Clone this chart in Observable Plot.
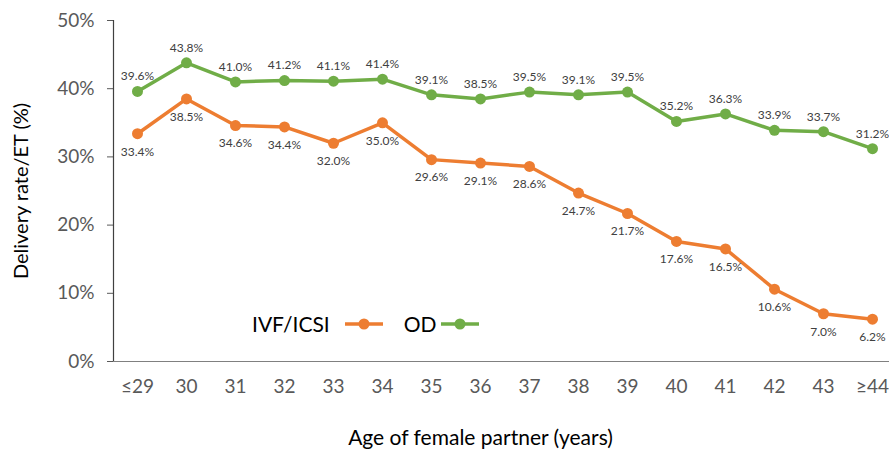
<!DOCTYPE html>
<html>
<head>
<meta charset="utf-8">
<script src="https://cdn.jsdelivr.net/npm/d3@7"></script>
<script src="https://cdn.jsdelivr.net/npm/@observablehq/plot@0.6"></script>
<style>
  html, body { margin: 0; padding: 0; background: #fff; }
  #wrap { position: relative; width: 889px; height: 453px; font-family: Lato, "Open Sans", sans-serif; }
  #legend { position: absolute; left: 252px; top: 311px; display: flex; align-items: center; font-size: 21px; color: #000; }
  #legend svg { display: block; }
</style>
</head>
<body>
<div id="wrap"></div>
<script>
const ages = ["≤29","30","31","32","33","34","35","36","37","38","39","40","41","42","43","≥44"];
const ivfIcsi = [33.4,38.5,34.6,34.4,32.0,35.0,29.6,29.1,28.6,24.7,21.7,17.6,16.5,10.6,7.0,6.2];
const od = [39.6,43.8,41.0,41.2,41.1,41.4,39.1,38.5,39.5,39.1,39.5,35.2,36.3,33.9,33.7,31.2];
const yTicks = [0,10,20,30,40,50];
const seriesNames = ["IVF/ICSI","OD"];
const colors = ["#ED7D31","#70AD47"];

const ivfRows = ages.map((a,i)=>({age:a, v:ivfIcsi[i]}));
const odRows = ages.map((a,i)=>({age:a, v:od[i]}));

const chart = Plot.plot({
  width: 889,
  height: 453,
  marginTop: 20,
  marginBottom: 92,
  marginLeft: 113,
  marginRight: 0,
  style: { fontFamily: "Lato, 'Open Sans', sans-serif", background: "#fff" },
  x: { type: "point", domain: ages, range: [137, 872], padding: 0 },
  y: { domain: [0, 50] },
  marks: [
    Plot.axisY({ ticks: yTicks, tickFormat: d => d + "%", tickSize: 6, tickPadding: 13, fontSize: 19, color: "#595959", stroke: "#595959",
      label: "Delivery rate/ET (%)", labelAnchor: "center", labelArrow: "none", labelOffset: 100 }),
    Plot.axisX({ tickSize: 0, tickPadding: 18, fontSize: 19, color: "#595959", label: null }),
    Plot.frame({ anchor: "left", stroke: "#404040", strokeWidth: 1.2 }),
    Plot.ruleY([0], { stroke: "#808080", strokeWidth: 1.2 }),
    Plot.text(["Age of female partner (years)"], { text: d => d, frameAnchor: "bottom", dy: 83, dx: -21, fontSize: 21, fill: "#000" }),
    Plot.lineY(ivfRows, { x: "age", y: "v", stroke: colors[0], strokeWidth: 3.5 }),
    Plot.dot(ivfRows, { x: "age", y: "v", fill: colors[0], r: 5.5 }),
    Plot.lineY(odRows, { x: "age", y: "v", stroke: colors[1], strokeWidth: 3.5 }),
    Plot.dot(odRows, { x: "age", y: "v", fill: colors[1], r: 5.5 }),
    Plot.text(odRows, { x: "age", y: "v", text: d => d.v.toFixed(1) + "%", dy: -15, fontSize: 12, fill: "#404040" }),
    Plot.text(ivfRows, { x: "age", y: "v", text: d => d.v.toFixed(1) + "%", dy: 18, fontSize: 12, fill: "#404040" })
  ]
});
chart.querySelectorAll('[aria-label="y-axis label"] text').forEach(t => { t.setAttribute("fill", "#000"); t.style.fontSize = "20px"; });
const wrap = document.getElementById("wrap");
wrap.appendChild(chart);

const legend = document.createElement("div");
legend.id = "legend";
seriesNames.forEach((name, i) => {
  const span = document.createElement("span");
  span.textContent = name;
  span.style.marginLeft = i === 0 ? "0px" : "20px";
  span.style.marginRight = i === 0 ? "14px" : "4px";
  legend.appendChild(span);
  const sw = document.createElementNS("http://www.w3.org/2000/svg", "svg");
  sw.setAttribute("width", "40"); sw.setAttribute("height", "14");
  sw.innerHTML = `<line x1="1" x2="39" y1="7" y2="7" stroke="${colors[i]}" stroke-width="3.5"/><circle cx="20" cy="7" r="5.5" fill="${colors[i]}"/>`;
  legend.appendChild(sw);
});
wrap.appendChild(legend);
</script>
</body>
</html>
